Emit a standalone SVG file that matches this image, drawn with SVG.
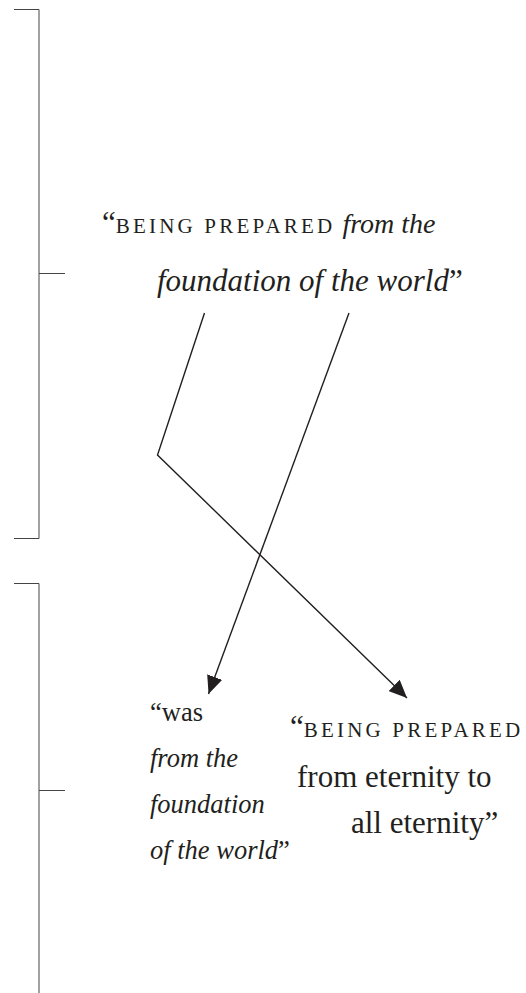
<svg xmlns="http://www.w3.org/2000/svg" width="526" height="993" viewBox="0 0 526 993">
  <style>
    .br { stroke: #444; stroke-width: 1; fill: none; }
    .t { font-family: "Liberation Serif", "Times New Roman", serif; font-size: 31px; fill: #231f20; }
    .it { font-style: italic; }
    .sc { font-size: 21px; letter-spacing: 3.2px; }
    .sm { font-size: 26.5px; }
    .conn { stroke: #231f20; stroke-width: 1.4; fill: none; }
  </style>
  <defs>
    <marker id="ah" markerUnits="userSpaceOnUse" markerWidth="20" markerHeight="16" viewBox="0 0 20 16" refX="18" refY="8" orient="auto">
      <path d="M0,0 L18,8 L0,16 Z" fill="#231f20"/>
    </marker>
  </defs>

  <g id="bracket-top">
    <path class="br" d="M14,9.5 H39 V538.5 H14"/>
    <path class="br" d="M39,273.5 H65"/>
  </g>
  <g id="bracket-bottom">
    <path class="br" d="M14,583.5 H39 V993"/>
    <path class="br" d="M39,790.5 H65"/>
  </g>

  <g id="node-top">
    <text class="t" x="102" y="233">“<tspan class="sc">BEING PREPARED</tspan><tspan class="it" font-size="28px"> from the</tspan></text>
    <text class="t" x="157" y="291" font-size="31.5px"><tspan class="it">foundation of the world</tspan>”</text>
  </g>

  <g id="node-left">
    <text class="t sm" x="150" y="721">“was</text>
    <text class="t sm it" x="150" y="767">from the</text>
    <text class="t sm it" x="150" y="813">foundation</text>
    <text class="t sm" x="150" y="859"><tspan class="it">of the world</tspan>”</text>
  </g>

  <g id="node-right">
    <text class="t" x="290" y="737">“<tspan class="sc">BEING PREPARED</tspan></text>
    <text class="t" x="297" y="787">from eternity to</text>
    <text class="t" x="351" y="833">all eternity”</text>
  </g>

  <g id="connectors">
    <path class="conn" d="M204.5,313 L157.5,455 L407,698" marker-end="url(#ah)"/>
    <path class="conn" d="M349,313 L208.5,694" marker-end="url(#ah)"/>
  </g>
</svg>
